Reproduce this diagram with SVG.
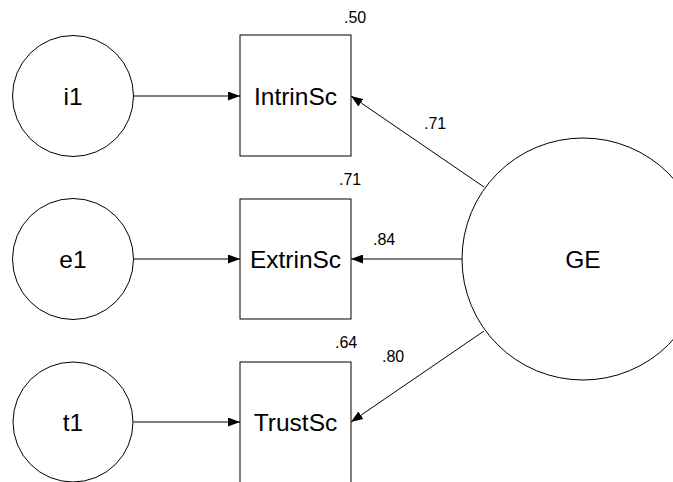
<svg xmlns="http://www.w3.org/2000/svg" width="673" height="482" viewBox="0 0 673 482">
  <style>
    .node { fill: #fff; stroke: #000; stroke-width: 1; }
    .lbl { font-family: "Liberation Sans", Arial, sans-serif; font-size: 24.5px; fill: #000; text-anchor: middle; dominant-baseline: central; }
    .coef { font-family: "Liberation Sans", Arial, sans-serif; font-size: 16px; fill: #000; }
    .edge { stroke: #000; stroke-width: 1; fill: none; marker-end: url(#arrow); }
  </style>
  <defs>
    <marker id="arrow" markerUnits="userSpaceOnUse" markerWidth="13" markerHeight="9" refX="12" refY="4.5" orient="auto">
      <path d="M0,0 L12,4.5 L0,9 z" fill="#000"/>
    </marker>
  </defs>
  <rect width="673" height="482" fill="#fff"/>

  <g id="connectors">
    <line class="edge" x1="133.5" y1="96" x2="240" y2="96"/>
    <line class="edge" x1="133.5" y1="259" x2="240" y2="259"/>
    <line class="edge" x1="133.5" y1="422" x2="240" y2="422"/>
    <line class="edge" x1="484" y1="187" x2="351" y2="96"/>
    <line class="edge" x1="462" y1="259" x2="351" y2="259"/>
    <line class="edge" x1="484" y1="331" x2="351" y2="422"/>
  </g>

  <g id="i1">
    <circle class="node" cx="73" cy="96" r="60.5"/>
    <text class="lbl" x="73" y="96">i1</text>
  </g>
  <g id="e1">
    <circle class="node" cx="73" cy="259" r="60.5"/>
    <text class="lbl" x="73" y="259">e1</text>
  </g>
  <g id="t1">
    <circle class="node" cx="73" cy="422" r="60"/>
    <text class="lbl" x="73" y="422">t1</text>
  </g>

  <g id="IntrinSc">
    <rect class="node" x="240" y="35" width="111" height="121"/>
    <text class="lbl" x="295.5" y="96">IntrinSc</text>
    <text class="coef" x="344" y="23">.50</text>
  </g>
  <g id="ExtrinSc">
    <rect class="node" x="240" y="199" width="111" height="120"/>
    <text class="lbl" x="295.5" y="259">ExtrinSc</text>
    <text class="coef" x="339" y="185">.71</text>
  </g>
  <g id="TrustSc">
    <rect class="node" x="240" y="362" width="111" height="121"/>
    <text class="lbl" x="295.5" y="422">TrustSc</text>
    <text class="coef" x="335" y="348">.64</text>
  </g>

  <g id="GE">
    <circle class="node" cx="583" cy="259" r="121"/>
    <text class="lbl" x="583" y="259">GE</text>
  </g>

  <g id="loadings">
    <text class="coef" x="424" y="129">.71</text>
    <text class="coef" x="373" y="245">.84</text>
    <text class="coef" x="382" y="362">.80</text>
  </g>
</svg>
